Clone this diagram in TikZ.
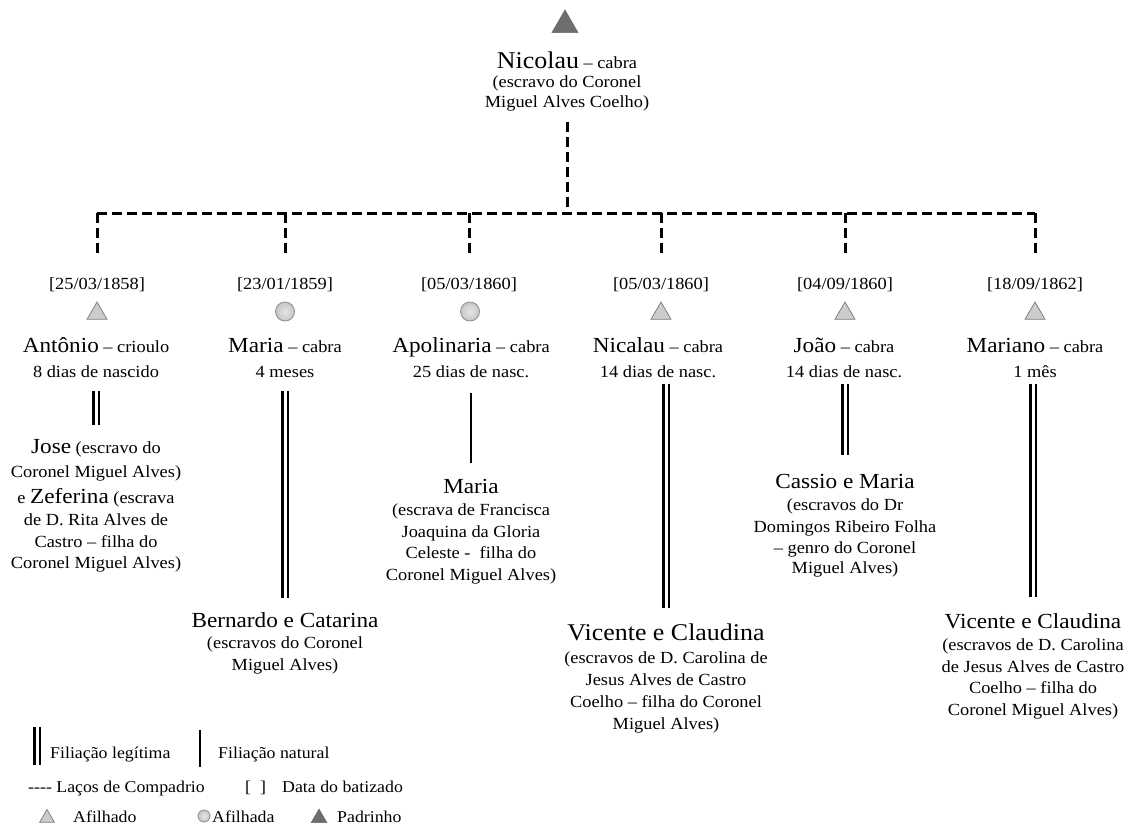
\documentclass[tikz,border=0pt]{standalone}
\usepackage{fontspec}
\setmainfont[FakeStretch=1.08]{Liberation Serif}
\usetikzlibrary{shapes.geometric}

% name in large type
\newcommand\pname[1]{{\fontsize{21.5}{22}\selectfont #1}}
\newcommand\bigpname[1]{{\fontsize{24}{22}\selectfont #1}}
% fixed top/bottom of text blocks
\newcommand\upstrut{\rule{0pt}{20pt}}
\newcommand\downstrut{\rule[-5pt]{0pt}{5pt}}

\tikzset{
  txt/.style={inner sep=0pt, align=center, anchor=north, font=\fontsize{17}{22}\selectfont},
  datebox/.style={inner sep=0pt, anchor=base, font=\fontsize{17}{22}\selectfont, text height=14pt, text depth=4pt},
  legtxt/.style={inner sep=0pt, anchor=base west, font=\fontsize{16.5}{20}\selectfont},
  compadrio/.style={line width=3pt, dash pattern=on 10pt off 5pt},
  legit/.style={line width=2.2pt, double=white, double distance=3pt},
  natural/.style={line width=2.8pt},
  afilhado/.style={regular polygon, regular polygon sides=3, minimum size=23pt, inner sep=0pt,
                   fill=gray!40, draw=black!50, line width=0.8pt},
  afilhada/.style={circle, minimum size=19pt, inner sep=0pt, inner color=gray!20, outer color=gray!45,
                   draw=black!45, line width=0.8pt},
  padrinho/.style={regular polygon, regular polygon sides=3, minimum size=30pt, inner sep=0pt,
                   fill=black!57, draw=black!60, line width=0.5pt},
}

\begin{document}
\begin{tikzpicture}[x=1pt, y=-1pt]
\useasboundingbox (0,0) rectangle (1135,830);

% godfather
\node[padrinho] (sym0) at (565,25) {};
\node[txt, font=\fontsize{17}{20}\selectfont] (nicolau) at (567,48)
  {\upstrut\bigpname{Nicolau} – cabra\\[-1pt](escravo do Coronel\\Miguel Alves Coelho)\downstrut};
\coordinate (bar) at (567,213);

% baptism dates
\node[datebox] (d1) at (97,289)   {[25/03/1858]};
\node[datebox] (d2) at (285,289)  {[23/01/1859]};
\node[datebox] (d3) at (469,289)  {[05/03/1860]};
\node[datebox] (d4) at (661,289)  {[05/03/1860]};
\node[datebox] (d5) at (845,289)  {[04/09/1860]};
\node[datebox] (d6) at (1035,289) {[18/09/1862]};

% compadrio ties
\draw[compadrio, shorten <=10pt] (nicolau.south) -- (nicolau.south |- bar);
\draw[compadrio] (d1.north |- bar) -- (d6.north |- bar);
\foreach \d in {d1,d2,d3,d4,d5,d6}
  \draw[compadrio, shorten >=17pt] (\d.north |- bar) -- (\d.north);

% godchildren symbols
\node[afilhado] (s1) at (97,313.5) {};
\node[afilhada] (s2) at (285,311.5) {};
\node[afilhada] (s3) at (470,311.5) {};
\node[afilhado] (s4) at (661,313.5) {};
\node[afilhado] (s5) at (845,313.5) {};
\node[afilhado] (s6) at (1035,313.5) {};

% godchildren
\node[txt] (a1) at (96,332)   {\upstrut\pname{Antônio} – crioulo\\[3pt]8 dias de nascido\downstrut};
\node[txt] (a2) at (285,332)  {\upstrut\pname{Maria} – cabra\\[3pt]4 meses\downstrut};
\node[txt] (a3) at (471,332)  {\upstrut\pname{Apolinaria} – cabra\\[3pt]25 dias de nasc.\downstrut};
\node[txt] (a4) at (658,332)  {\upstrut\pname{Nicalau} – cabra\\[3pt]14 dias de nasc.\downstrut};
\node[txt] (a5) at (844,332)  {\upstrut\pname{João} – cabra\\[3pt]14 dias de nasc.\downstrut};
\node[txt] (a6) at (1035,332) {\upstrut\pname{Mariano} – cabra\\[3pt]1 mês\downstrut};

% parents
\node[txt] (p1) at (96,433)
  {\upstrut\pname{Jose} (escravo do\\[2pt]Coronel Miguel Alves)\\[4pt]e \pname{Zeferina} (escrava\\de D. Rita Alves de\\Castro – filha do\\[-1pt]Coronel Miguel Alves)\downstrut};
\node[txt] (p2) at (285,607)
  {\upstrut\pname{Bernardo e Catarina}\\[-1pt](escravos do Coronel\\Miguel Alves)\downstrut};
\node[txt] (p3) at (471,473)
  {\upstrut\pname{Maria}\\(escrava de Francisca\\Joaquina da Gloria\\[-1pt]Celeste -~ filha do\\Coronel Miguel Alves)\downstrut};
\node[txt] (p4) at (666,620)
  {\upstrut\bigpname{Vicente e Claudina}\\[1pt](escravos de D. Carolina de\\Jesus Alves de Castro\\Coelho – filha do Coronel\\Miguel Alves)\downstrut};
\node[txt] (p5) at (845,468)
  {\upstrut\pname{Cassio e Maria}\\(escravos do Dr\\Domingos Ribeiro Folha\\[-1pt]– genro do Coronel\\[-2pt]Miguel Alves)\downstrut};
\node[txt] (p6) at (1033,608)
  {\upstrut\pname{Vicente e Claudina}\\(escravos de D. Carolina\\de Jesus Alves de Castro\\[-1pt]Coelho – filha do\\Coronel Miguel Alves)\downstrut};

% filiation lines
\draw[legit, shorten <=9pt, shorten >=8pt]  (p1.north |- a1.south) -- (p1.north);
\draw[legit, shorten <=9pt, shorten >=9pt]  (p2.north |- a2.south) -- (p2.north);
\draw[natural, shorten <=11pt, shorten >=10pt] (p3.north |- a3.south) -- (p3.north);
\draw[legit, shorten <=2pt, shorten >=12pt] (p4.north |- a4.south) -- (p4.north);
\draw[legit, shorten <=2pt, shorten >=13pt] (p5.north |- a5.south) -- (p5.north);
\draw[legit, shorten <=2pt, shorten >=11pt] (p6.north |- a6.south) -- (p6.north);

% legend
\coordinate (lgA) at (37,727);
\coordinate (lgB) at (37,765);
\draw[legit] (lgA) -- (lgB);
\node[legtxt] (lg1) at (50,758) {Filiação legítima};
\coordinate (lnA) at (200,730);
\coordinate (lnB) at (200,767);
\draw[natural] (lnA) -- (lnB);
\node[legtxt] (lg2) at (218,758) {Filiação natural};
\node[legtxt] (lg3) at (28,792) {-{}-{}-{}- Laços de Compadrio};
\node[legtxt] (lg4) at (245,792) {[\hspace{0.55em}]};
\node[legtxt] (lg5) at (282,792) {Data do batizado};
\node[afilhado, minimum size=17pt] (ls1) at (47,818) {};
\node[legtxt] (lg6) at (73,822) {Afilhado};
\node[afilhada, minimum size=12pt] (ls2) at (204,816) {};
\node[legtxt] (lg7) at (212,822) {Afilhada};
\node[padrinho, minimum size=18pt] (ls3) at (319,818) {};
\node[legtxt] (lg8) at (337,822) {Padrinho};
\end{tikzpicture}
\end{document}
